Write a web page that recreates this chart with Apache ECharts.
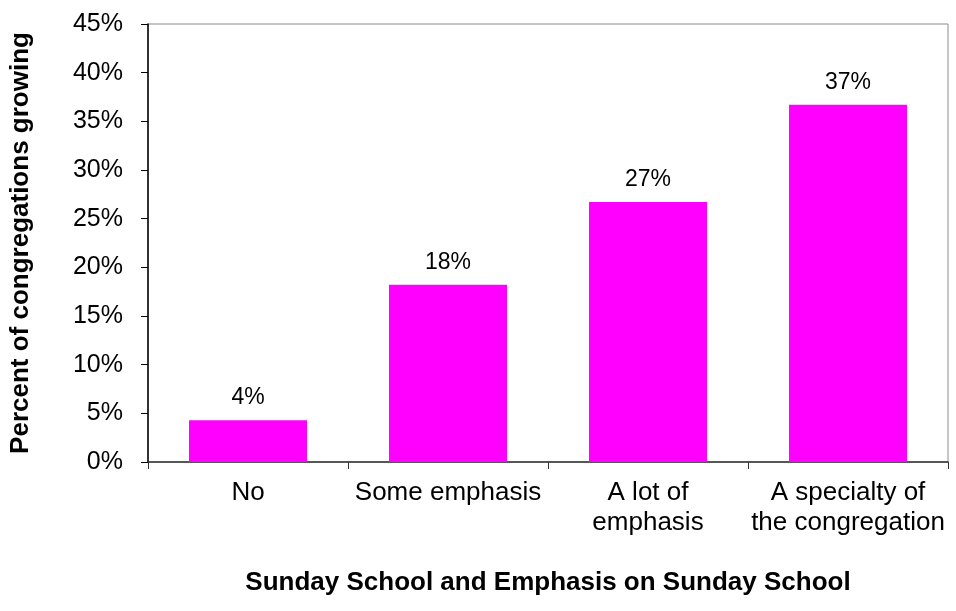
<!DOCTYPE html>
<html>
<head>
<meta charset="utf-8">
<script src="https://cdn.jsdelivr.net/npm/echarts@6/dist/echarts.min.js"></script>
<style>html,body{margin:0;padding:0;background:#fff}#c{width:956px;height:611px}</style>
</head>
<body>
<div id="c"></div>
<script>
var categories = ['No', 'Some emphasis', 'A lot of\nemphasis', 'A specialty of\nthe congregation'];
var values = [4.3, 18.2, 26.7, 36.7];
var yTicks = [0, 5, 10, 15, 20, 25, 30, 35, 40, 45];

var FONT = 'Liberation Sans, Arial, sans-serif';
var chart = echarts.init(document.getElementById('c'));
chart.setOption({
  animation: false,
  backgroundColor: '#ffffff',
  grid: { left: 148, right: 8, top: 24, bottom: 149, show: true, borderColor: '#8c8c8c', borderWidth: 1 },
  xAxis: {
    type: 'category',
    data: categories,
    name: 'Sunday School and Emphasis on Sunday School',
    nameLocation: 'middle',
    nameGap: 108,
    nameTextStyle: { fontFamily: FONT, fontSize: 26, fontWeight: 'bold', color: '#000' },
    axisLine: { lineStyle: { color: '#333', width: 1.5 } },
    axisTick: { show: true, alignWithLabel: false, length: 7, lineStyle: { color: '#333' } },
    axisLabel: { fontFamily: FONT, fontSize: 26, color: '#000', margin: 16, lineHeight: 30, interval: 0 }
  },
  yAxis: {
    type: 'value',
    min: yTicks[0],
    max: yTicks[yTicks.length - 1],
    interval: 5,
    name: 'Percent of congregations growing',
    nameLocation: 'middle',
    nameGap: 114,
    nameTextStyle: { fontFamily: FONT, fontSize: 26, fontWeight: 'bold', color: '#000' },
    axisLine: { show: true, lineStyle: { color: '#000', width: 1.5 } },
    axisTick: { show: true, length: 7, lineStyle: { color: '#000' } },
    splitLine: { show: false },
    axisLabel: { fontFamily: FONT, fontSize: 25, color: '#000', margin: 25, formatter: function (v) { return v + '%'; } }
  },
  series: [{
    type: 'bar',
    data: values,
    barWidth: '59%',
    itemStyle: { color: '#ff00ff' },
    label: {
      show: true,
      position: 'top',
      distance: 11,
      fontFamily: FONT,
      fontSize: 23,
      color: '#000',
      formatter: function (p) { return Math.round(p.value) + '%'; }
    }
  }]
});
</script>
</body>
</html>
